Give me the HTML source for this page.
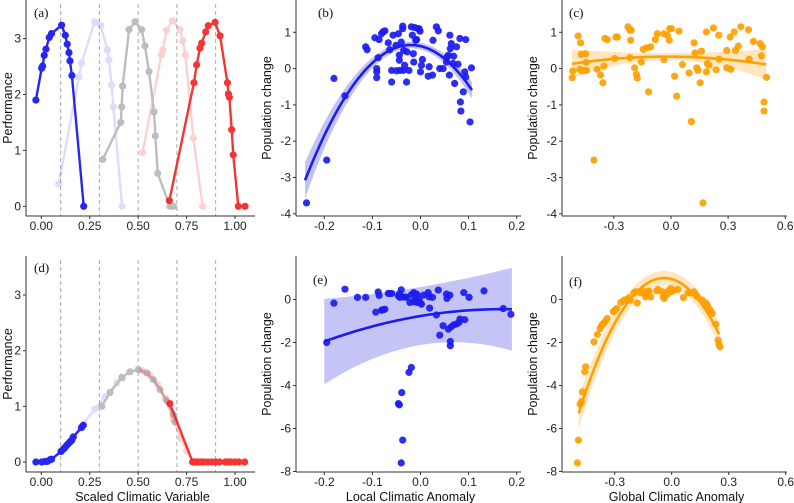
<!DOCTYPE html>
<html><head><meta charset="utf-8"><style>
html,body{margin:0;padding:0;background:#fff;}
svg{display:block;font-family:"Liberation Sans",sans-serif;}
.tk{font-size:12px;fill:#222;}
.tt{font-size:12.5px;fill:#111;}
.tag{font-family:"Liberation Serif",serif;font-size:13px;fill:#111;}
</style></head><body>
<svg id="chart" width="794" height="503" viewBox="0 0 794 503"></svg>
<script>
// ---------- Panel (a) series [scaled variable, performance] ----------
const aBlue=[[-0.028,1.90],[0.002,2.47],[0.007,2.51],[0.015,2.70],[0.024,2.81],[0.041,3.02],[0.053,3.09],[0.105,3.24],[0.124,3.06],[0.134,2.90],[0.143,2.75],[0.148,2.60],[0.158,2.34],[0.219,0]];
const aLightBlue=[[0.090,0.40],[0.194,2.31],[0.208,2.56],[0.275,3.30],[0.282,3.29],[0.308,3.23],[0.341,2.80],[0.349,2.62],[0.363,2.17],[0.372,1.78],[0.417,0]];
const aGray=[[0.317,0.84],[0.410,1.50],[0.415,1.78],[0.420,2.15],[0.453,3.16],[0.484,3.30],[0.518,3.16],[0.535,2.87],[0.556,2.41],[0.582,1.69],[0.589,1.26],[0.601,0.59],[0.664,0],[0.682,0]];
const aLightRed=[[0.523,0.96],[0.620,2.71],[0.627,2.80],[0.647,3.15],[0.678,3.32],[0.716,3.16],[0.730,2.96],[0.744,2.71],[0.785,1.22],[0.833,0]];
const aRed=[[0.661,0.10],[0.788,2.21],[0.802,2.53],[0.819,2.83],[0.828,2.92],[0.849,3.12],[0.862,3.23],[0.897,3.29],[0.923,3.05],[0.961,2.21],[0.966,2.01],[0.971,1.95],[0.983,1.37],[0.991,0.92],[1.017,0],[1.052,0]];
// ---------- Panel (d) series ----------
const dBlue=[[-0.028,0],[0.002,0],[0.019,0.01],[0.031,0.01],[0.045,0.04],[0.053,0.05],[0.102,0.19],[0.114,0.23],[0.122,0.26],[0.131,0.30],[0.140,0.33],[0.148,0.36],[0.157,0.39],[0.165,0.45],[0.208,0.62],[0.217,0.66]];
const dLightBlue=[[0.10,0.19],[0.15,0.38],[0.20,0.62],[0.277,0.95],[0.33,1.17],[0.39,1.42],[0.42,1.50]];
const dGray=[[0.312,1.0],[0.355,1.25],[0.415,1.52],[0.458,1.62],[0.501,1.66],[0.544,1.60],[0.578,1.48],[0.613,1.30],[0.647,1.10],[0.682,0.85],[0.69,0.72]];
const dLightRed=[[0.52,1.64],[0.56,1.56],[0.60,1.40],[0.64,1.15],[0.68,0.78],[0.72,0.42],[0.75,0.20],[0.79,0]];
const dRed=[[0.664,1.05],[0.781,0],[0.79,0],[0.80,0],[0.81,0],[0.82,0],[0.83,0],[0.84,0],[0.86,0],[0.88,0],[0.90,0],[0.92,0],[0.95,0],[0.96,0],[0.97,0],[0.98,0],[1.0,0],[1.02,0],[1.05,0]];
const optima=[0.1,0.3,0.5,0.7,0.9];
// ---------- Panel (b) local anomaly vs population change ----------
const bX=[-0.237,-0.195,-0.180,-0.157,-0.114,-0.111,-0.095,-0.091,-0.091,-0.091,-0.088,-0.086,-0.081,-0.078,-0.074,-0.067,-0.064,-0.060,-0.060,-0.057,-0.051,-0.050,-0.046,-0.044,-0.044,-0.043,-0.040,-0.037,-0.037,-0.036,-0.035,-0.033,-0.029,-0.028,-0.024,-0.019,-0.017,-0.015,-0.014,-0.012,-0.010,-0.008,-0.005,-0.003,-0.001,0.000,0.002,0.004,0.016,0.018,0.025,0.026,0.033,0.037,0.040,0.047,0.054,0.055,0.058,0.060,0.061,0.062,0.064,0.068,0.069,0.071,0.075,0.078,0.082,0.083,0.084,0.089,0.092,0.094,0.094,0.103,0.106];
const bY=[-3.70,-2.52,-0.27,-0.75,0.60,0.52,0.85,0.00,-0.09,-0.25,0.30,0.80,0.96,1.01,1.04,0.71,0.52,-0.05,-0.37,0.92,0.64,-0.06,0.96,0.37,0.23,-0.05,0.73,1.10,1.17,-0.05,0.50,0.09,-0.37,0.46,-0.05,1.15,0.92,0.41,0.18,1.13,0.78,0.80,1.10,1.10,1.03,-0.09,0.09,0.25,-0.21,0.05,-0.18,0.78,1.15,1.04,0.00,0.00,0.18,0.32,0.37,-0.18,0.92,0.55,0.69,0.14,0.34,-0.41,0.60,0.12,0.83,-0.92,-1.17,-0.64,-0.09,0.80,-0.23,-1.47,0.02];
const bFit=[0.65,-0.02,77]; const bFitRange=[-0.24,0.107]; const bSe=[0.09,0.5];
// ---------- Panel (c) global anomaly vs population change ----------
const cX=[-0.519,-0.516,-0.488,-0.479,-0.475,-0.472,-0.467,-0.458,-0.449,-0.446,-0.444,-0.405,-0.388,-0.370,-0.358,-0.353,-0.347,-0.335,-0.296,-0.289,-0.282,-0.226,-0.216,-0.216,-0.212,-0.209,-0.191,-0.182,-0.177,-0.156,-0.146,-0.128,-0.118,-0.107,-0.082,-0.072,-0.037,-0.037,-0.019,-0.009,-0.007,0.002,0.019,0.030,0.042,0.060,0.095,0.107,0.121,0.126,0.135,0.142,0.153,0.160,0.168,0.186,0.186,0.191,0.200,0.223,0.237,0.251,0.253,0.293,0.293,0.311,0.314,0.332,0.339,0.354,0.367,0.407,0.411,0.433,0.468,0.475,0.481,0.489,0.489,0.502];
const cY=[-0.25,-0.07,0.90,-0.02,0.71,0.39,-0.06,-0.05,0.41,0.17,-0.05,-2.52,-0.02,-0.18,-0.39,0.07,0.83,0.80,0.28,0.87,0.87,1.15,1.06,0.30,0.78,1.06,0.02,-0.16,-0.26,0.18,0.53,0.57,-0.64,0.60,0.80,0.96,0.25,0.96,0.92,0.78,1.10,1.10,-0.21,-0.76,1.03,0.11,-0.12,-1.46,0.71,0.43,0.02,-0.05,-0.39,0.48,-3.70,1.01,-0.09,0.14,0.09,1.12,-0.03,0.92,0.26,0.50,0.02,0.87,-0.02,1.01,0.50,0.62,1.15,1.07,0.26,0.75,0.69,0.35,0.60,-0.92,-1.17,-0.24];
const cFit=[0.33,-0.02,0.8]; const cFitRange=[-0.52,0.50]; const cSe=[0.1,0.42];
// ---------- Panel (e) ----------
const eX=[-0.195,-0.180,-0.157,-0.131,-0.114,-0.093,-0.088,-0.086,-0.081,-0.078,-0.074,-0.067,-0.064,-0.060,-0.046,-0.044,-0.043,-0.040,-0.037,-0.033,-0.029,-0.024,-0.022,-0.019,-0.019,-0.015,-0.014,-0.012,-0.010,-0.008,-0.007,-0.003,-0.001,0.002,0.006,0.016,0.018,0.019,0.025,0.033,0.037,0.040,0.047,0.054,0.055,0.058,0.061,0.062,0.062,0.064,0.069,0.075,0.080,0.082,0.090,0.092,0.101,0.132,0.172,0.188,-0.046,-0.044,-0.039,-0.037,-0.040];
const eY=[-2.00,-0.17,0.48,0.10,0.10,-0.59,0.35,0.19,-0.50,-0.48,-0.45,0.28,0.28,0.28,0.17,0.25,0.10,0.45,0.12,0.12,0.10,-3.39,-0.14,-3.16,0.22,-0.10,0.32,-0.10,0.17,0.25,-0.14,0.02,-0.14,-0.22,0.20,0.32,0.12,-0.40,0.10,-0.72,0.44,-1.66,-1.22,0.25,0.05,-1.38,0.20,-1.95,-2.15,-1.27,-1.18,-1.14,-1.07,-0.91,0.32,-0.94,0.10,0.40,-0.42,-0.69,-4.84,-4.90,-4.33,-6.54,-7.60];
const eFit=[-0.45,0.17,11]; const eFitRange=[-0.2,0.19]; const eSe=[1.35,16];
// ---------- Panel (f) ----------
const fX=[-0.496,-0.491,-0.482,-0.475,-0.470,-0.458,-0.453,-0.409,-0.391,-0.377,-0.370,-0.363,-0.356,-0.347,-0.339,-0.307,-0.300,-0.289,-0.268,-0.251,-0.237,-0.230,-0.225,-0.219,-0.198,-0.189,-0.181,-0.163,-0.154,-0.142,-0.137,-0.128,-0.119,-0.111,-0.079,-0.072,-0.049,-0.044,-0.040,-0.032,-0.023,-0.014,-0.005,-0.002,0.012,0.033,0.061,0.086,0.100,0.118,0.126,0.135,0.161,0.179,0.188,0.196,0.205,0.214,0.232,0.244,0.249,0.254];
const fY=[-7.60,-6.54,-4.87,-4.76,-4.29,-3.36,-3.13,-1.97,-1.63,-1.35,-1.24,-1.15,-1.09,-0.99,-0.88,-0.57,-0.50,-0.42,-0.14,-0.03,-0.03,0.02,0.08,-0.03,0.31,0.36,-0.16,0.31,0.40,0.28,0.12,0.36,0.39,0.12,0.40,0.47,0.36,0.12,0.05,0.31,0.25,0.43,0.51,0.36,0.43,0.47,0.09,0.31,0.31,0.36,0.23,0.12,-0.03,-0.16,-0.26,-0.42,-0.53,-0.65,-1.15,-1.89,-2.09,-2.20];
const fFit=[1.0,-0.04,31.1]; const fFitRange=[-0.49,0.25]; const fSe=[0.33,0.75];
// ---------- Tick labels ----------
const ticksPerfX=[0,0.25,0.5,0.75,1.0]; const ticksPerfXLab=["0.00","0.25","0.50","0.75","1.00"];
const ticksPerfY=[0,1,2,3];
const ticksLocX=[-0.2,-0.1,0,0.1,0.2]; const ticksLocXLab=["-0.2","-0.1","0.0","0.1","0.2"];
const ticksGloX=[-0.3,0,0.3,0.6]; const ticksGloXLab=["-0.3","0.0","0.3","0.6"];
const ticksTopY=[-4,-3,-2,-1,0,1]; const ticksBotY=[-8,-6,-4,-2,0];

const NS="http://www.w3.org/2000/svg";
const svg=document.getElementById('chart');
function mk(tag,attrs,parent){const e=document.createElementNS(NS,tag);for(const k in attrs)e.setAttribute(k,attrs[k]);(parent||svg).appendChild(e);return e;}
function lin(d0,d1,r0,r1){return v=>r0+(v-d0)*(r1-r0)/(d1-d0);}

const P={
 a:{x:lin(0,1,41.3,235),y:lin(0,3,206.3,38.6),L:26,R:255,T:0,B:216},
 d:{x:lin(0,1,41.3,235),y:lin(0,3,462,295),L:26,R:255,T:256,B:472},
 b:{x:lin(-0.2,0.2,324.3,516.7),y:lin(0,1,68.6,32.3),L:296,R:521,T:0,B:216},
 c:{x:lin(0,0.3,671,728.1),y:lin(0,1,68.6,32.3),L:562,R:787,T:0,B:216},
 e:{x:lin(-0.2,0.2,324.3,516.7),y:lin(0,-2,299.5,342.5),L:296,R:521,T:256,B:472},
 f:{x:lin(0,0.3,671.7,728.7),y:lin(0,-2,299.5,342.5),L:562,R:787,T:256,B:472}
};

function axes(p,key,xt,xl,yt,ytitle,xtitle,tx,ty){
 const g=mk('g',{});
 
 
 const ya=mk('line',{x1:p.L,y1:p.T,x2:p.L,y2:p.B,stroke:'#333','stroke-width':1},g);
 
 
 const xa=mk('line',{x1:p.L,y1:p.B,x2:p.R,y2:p.B,stroke:'#333','stroke-width':1},g);
 
 
 xt.forEach((v,i)=>{const X=p.x(v);
  mk('line',{x1:X,y1:p.B,x2:X,y2:p.B+3,stroke:'#333'},g);
  const t=mk('text',{x:X,y:p.B+14,'text-anchor':'middle',class:'tk'},g);t.textContent=xl[i];
  
  });
 yt.forEach(v=>{const Y=p.y(v);
  mk('line',{x1:p.L-3,y1:Y,x2:p.L,y2:Y,stroke:'#333'},g);
  const t=mk('text',{x:p.L-5,y:Y+4,'text-anchor':'end',class:'tk'},g);t.textContent=String(v);
  
  });
 const yt2=mk('text',{x:0,y:0,'text-anchor':'middle',class:'tt',transform:`translate(${p.L-(key==='a'||key==='d'?14:25)},${(p.T+p.B)/2}) rotate(-90)`},g);
 yt2.textContent=ytitle;
 
 
 if(xtitle){const xt2=mk('text',{x:(p.L+p.R)/2+2,y:p.B+29,'text-anchor':'middle',class:'tt'},g);xt2.textContent=xtitle;
  
  }
 const tg=mk('text',{x:tx,y:ty,class:'tag'},g);tg.textContent='('+key+')';
 
 
}

function optimaLines(p,key){optima.forEach(v=>{const l=mk('line',{x1:p.x(v),y1:p.T+4,x2:p.x(v),y2:p.B,stroke:'#aaa','stroke-dasharray':'4,3','stroke-width':1});
 
 });}

function series(p,key,name,data,color,op){
 const g=mk('g',{opacity:op});
 
 
 mk('polyline',{points:data.map(d=>p.x(d[0])+','+p.y(d[1])).join(' '),fill:'none',stroke:color,'stroke-width':2.4},g);
 data.forEach(d=>{const c=mk('circle',{cx:p.x(d[0]),cy:p.y(d[1]),r:3.6,fill:color},g);
  
  });
}

function scatter(p,key,xs,ys,color){
 xs.forEach((v,i)=>{const c=mk('circle',{cx:p.x(v),cy:p.y(ys[i]),r:3.6,fill:color,'fill-opacity':0.92});
  
  });
}

function fit(p,key,coef,range,se,col,band,seMode){
 const n=60,up=[],lo=[],mid=[];const span=Math.max(Math.abs(range[0]-coef[1]),Math.abs(range[1]-coef[1]));
 for(let i=0;i<=n;i++){const v=range[0]+(range[1]-range[0])*i/n;const m=coef[0]-coef[2]*(v-coef[1])*(v-coef[1]);
  const h=seMode?se[0]+se[1]*v*v:se[0]+(se[1]-se[0])*Math.pow((v-coef[1])/span,2);
  mid.push([p.x(v),p.y(m)]);up.push([p.x(v),p.y(m+h)]);lo.push([p.x(v),p.y(m-h)]);}
 const b=mk('polygon',{points:up.concat(lo.reverse()).map(q=>q.join(',')).join(' '),fill:band});
 
 
 return ()=>{const l=mk('polyline',{points:mid.map(q=>q.join(',')).join(' '),fill:'none',stroke:col,'stroke-width':2.6});
  
  };
}

const BLUE='#1c1cf0',ORANGE='#ffa000',GRAY='#bdbdbd',RED='#f51f1f';
// (a)
optimaLines(P.a,'a');
series(P.a,'a','light-blue',aLightBlue,BLUE,0.15);
series(P.a,'a','light-red',aLightRed,RED,0.2);
series(P.a,'a','gray',aGray,GRAY,1);
series(P.a,'a','blue',aBlue,BLUE,0.95);
series(P.a,'a','red',aRed,RED,0.9);
axes(P.a,'a',ticksPerfX,ticksPerfXLab,ticksPerfY,'Performance',null,34,17);
// (d)
optimaLines(P.d,'d');
series(P.d,'d','light-blue',dLightBlue,BLUE,0.15);
series(P.d,'d','gray',dGray,GRAY,1);
series(P.d,'d','light-red',dLightRed,RED,0.2);
series(P.d,'d','blue',dBlue,BLUE,0.95);
series(P.d,'d','red',dRed,RED,0.9);
axes(P.d,'d',ticksPerfX,ticksPerfXLab,ticksPerfY,'Performance','Scaled Climatic Variable',34,272);
// (b)
let dl=fit(P.b,'b',bFit,bFitRange,bSe,BLUE,'#c3c3f3',false);
scatter(P.b,'b',bX,bY,BLUE);dl();
axes(P.b,'b',ticksLocX,ticksLocXLab,ticksTopY,'Population change',null,318,17);
// (c)
dl=fit(P.c,'c',cFit,cFitRange,cSe,ORANGE,'#fde6c0',false);
scatter(P.c,'c',cX,cY,ORANGE);dl();
axes(P.c,'c',ticksGloX,ticksGloXLab,ticksTopY,'Population change',null,569,17);
// (e)
dl=fit(P.e,'e',eFit,eFitRange,eSe,BLUE,'#c4c4f6',true);
scatter(P.e,'e',eX,eY,BLUE);dl();
axes(P.e,'e',ticksLocX,ticksLocXLab,ticksBotY,'Population change','Local Climatic Anomaly',313,284);
// (f)
dl=fit(P.f,'f',fFit,fFitRange,fSe,ORANGE,'#fde6c0',false);
scatter(P.f,'f',fX,fY,ORANGE);dl();
axes(P.f,'f',ticksGloX,ticksGloXLab,ticksBotY,'Population change','Global Climatic Anomaly',569,286);
</script>
</body></html>
